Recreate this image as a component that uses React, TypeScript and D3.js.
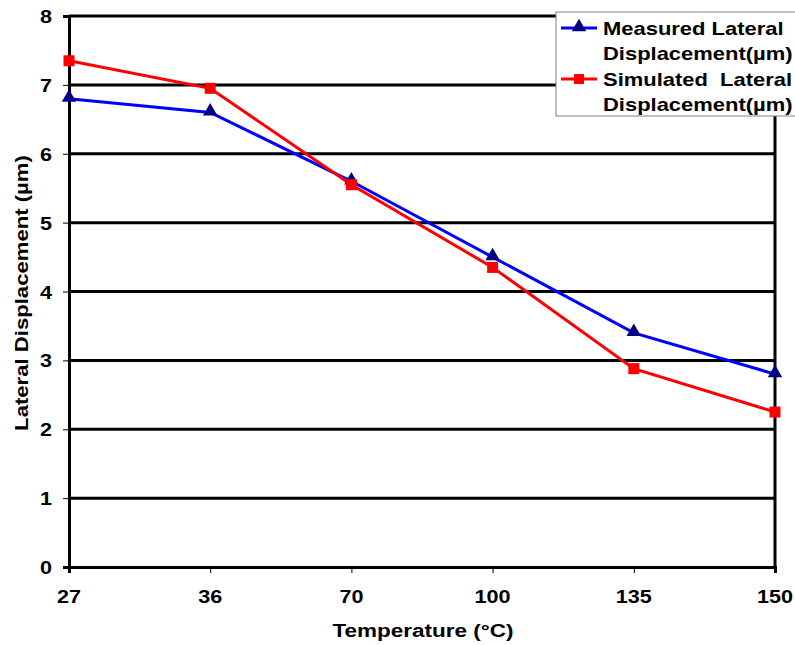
import React, { useEffect, useRef } from 'react';
import * as d3 from 'd3';

const temperatures = ['27', '36', '70', '100', '135', '150'];
const measured = [6.8, 6.6, 5.6, 4.5, 3.4, 2.8];
const simulated = [7.35, 6.95, 5.55, 4.35, 2.88, 2.25];
const yTicks = [0, 1, 2, 3, 4, 5, 6, 7, 8];

const App = () => {
  const svgRef = useRef<SVGSVGElement>(null);

  useEffect(() => {
    const svg = d3.select(svgRef.current);
    svg.selectAll('*').remove();

    const width = 795;
    const height = 645;
    const margin = { top: 16, right: 20, bottom: 78, left: 69 };
    const innerWidth = width - margin.left - margin.right;
    const innerHeight = height - margin.top - margin.bottom;
    const font = '"Liberation Sans", Arial, sans-serif';

    // text looks horizontally stretched in the original, so scale x
    const addText = (parent, x, y, txt, size, sx, anchor = 'start', rot = 0) => {
      parent.append('text')
        .attr('transform', `translate(${x},${y}) rotate(${rot}) scale(${sx},1)`)
        .attr('text-anchor', anchor)
        .attr('font-family', font)
        .attr('font-size', size)
        .attr('font-weight', 'bold')
        .attr('fill', '#000')
        .text(txt);
    };

    const x = d3.scalePoint().domain(temperatures).range([0, innerWidth]).padding(0);
    const y = d3.scaleLinear().domain([0, 8]).range([innerHeight, 0]);

    const g = svg.append('g').attr('transform', `translate(${margin.left},${margin.top})`);

    // gridlines
    g.selectAll('.grid')
      .data(yTicks.filter(d => d > 0))
      .enter().append('line')
      .attr('x1', 0).attr('x2', innerWidth)
      .attr('y1', d => y(d)).attr('y2', d => y(d))
      .attr('stroke', '#000').attr('stroke-width', 3);

    // right border
    g.append('line')
      .attr('x1', innerWidth).attr('x2', innerWidth)
      .attr('y1', 0).attr('y2', innerHeight)
      .attr('stroke', '#000').attr('stroke-width', 3);

    // y axis
    const yAxis = g.append('g')
      .call(d3.axisLeft(y).tickValues(yTicks).tickSize(6).tickFormat(() => ''));
    yAxis.select('.domain').attr('stroke-width', 3);
    yAxis.selectAll('.tick line').attr('stroke-width', 1);
    yTicks.forEach(t => addText(g, -17, y(t) + 7, String(t), 18, 1.2, 'end'));

    // x axis
    const xAxis = g.append('g')
      .attr('transform', `translate(0,${innerHeight})`)
      .call(d3.axisBottom(x).tickSize(6).tickFormat(() => ''));
    xAxis.select('.domain').attr('stroke-width', 3);
    xAxis.selectAll('.tick line').attr('stroke-width', 1);
    temperatures.forEach(t => addText(g, x(t) as number, innerHeight + 36, t, 18, 1.2, 'middle'));

    // axis titles
    addText(g, 423 - margin.left, innerHeight + 70, 'Temperature (°C)', 18, 1.25, 'middle');
    addText(g, 28 - margin.left, 293 - margin.top, 'Lateral Displacement (µm)', 18, 1.23, 'middle', -90);

    const line = d3.line<number>()
      .x((d, i) => x(temperatures[i]) as number)
      .y(d => y(d));

    const triangle = d3.symbol().type(d3.symbolTriangle).size(90);

    g.append('path').datum(measured)
      .attr('d', line).attr('fill', 'none').attr('stroke', '#0000ff').attr('stroke-width', 3);
    g.append('path').datum(simulated)
      .attr('d', line).attr('fill', 'none').attr('stroke', '#ff0000').attr('stroke-width', 3);

    g.selectAll('.m')
      .data(measured)
      .enter().append('path')
      .attr('d', triangle())
      .attr('transform', (d, i) => `translate(${x(temperatures[i])},${y(d) - 1})`)
      .attr('fill', '#000080');

    g.selectAll('.s')
      .data(simulated)
      .enter().append('rect')
      .attr('x', (d, i) => (x(temperatures[i]) as number) - 5.5)
      .attr('y', d => y(d) - 5.5)
      .attr('width', 11).attr('height', 11)
      .attr('fill', '#ff0000');

    // legend
    const legend = svg.append('g').attr('transform', 'translate(556,12)');
    legend.append('rect')
      .attr('x', 0).attr('y', 0).attr('width', 245).attr('height', 104)
      .attr('fill', '#fff').attr('stroke', '#808080').attr('stroke-width', 1);

    const items = [
      { color: '#0000ff', marker: 'tri', lines: ['Measured Lateral', 'Displacement(µm)'], y: 16 },
      { color: '#ff0000', marker: 'sq', lines: ['Simulated\u00a0 Lateral', 'Displacement(µm)'], y: 67 }
    ];
    items.forEach(it => {
      legend.append('line')
        .attr('x1', 5).attr('x2', 41).attr('y1', it.y).attr('y2', it.y)
        .attr('stroke', it.color).attr('stroke-width', 3);
      if (it.marker === 'tri') {
        legend.append('path').attr('d', triangle())
          .attr('transform', `translate(23,${it.y - 1})`).attr('fill', '#000080');
      } else {
        legend.append('rect').attr('x', 18).attr('y', it.y - 5).attr('width', 10).attr('height', 10)
          .attr('fill', '#ff0000');
      }
      it.lines.forEach((t, k) => addText(legend, 47, it.y + 7 + k * 25, t, 18, 1.22));
    });
  }, []);

  return <svg ref={svgRef} width={795} height={645} style={{ position: 'absolute', left: 0, top: 0 }}></svg>;
};

export default App;
